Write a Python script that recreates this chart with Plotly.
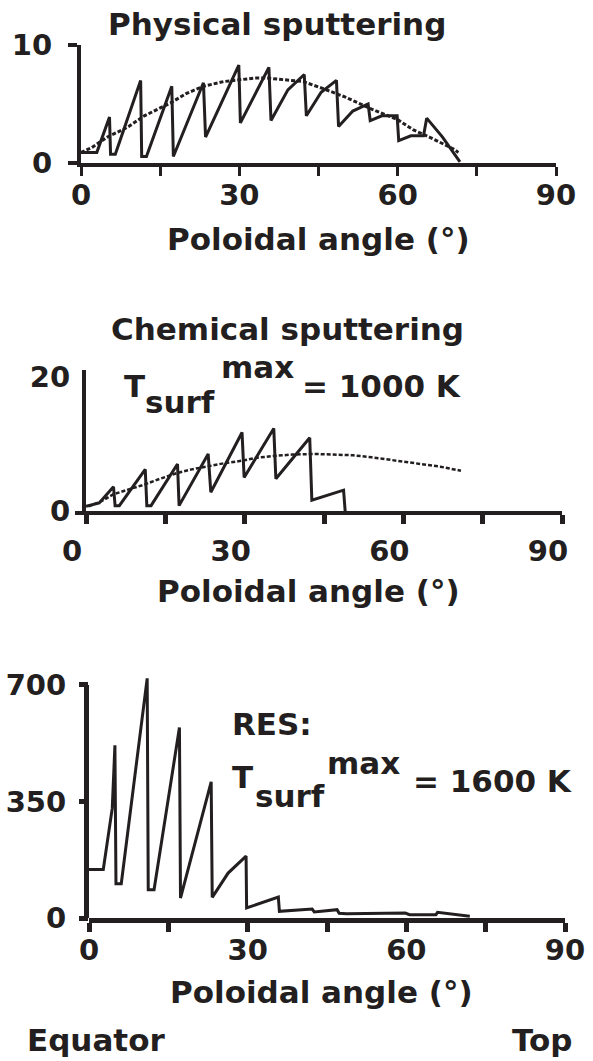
import plotly.graph_objects as go

INK = "#231f20"
W, H = 593, 1061
FONT = "DejaVu Sans"
FS = 31
TFS = 29

# ---------------- data ----------------
# Physical sputtering (solid sawtooth + dotted smooth curve)
phys_x = [0.0, 3.0, 5.4, 5.6, 6.5, 11.3, 11.5, 12.4, 17.2, 17.5, 23.2, 23.6, 29.9, 30.2,
          35.6, 36.0, 39.2, 42.3, 42.7, 45.5, 48.4, 48.8, 51.5, 54.4, 54.8, 57.0, 59.9,
          60.2, 62.5, 64.9, 65.5, 68.5, 71.8]
phys_y = [0.9, 0.9, 3.9, 0.75, 0.75, 7.0, 0.55, 0.55, 6.5, 0.55, 6.8, 2.2, 8.3, 3.4,
          8.1, 3.6, 6.2, 7.5, 4.0, 6.0, 7.0, 3.1, 4.4, 5.0, 3.6, 4.0, 4.0,
          1.9, 2.3, 2.3, 3.8, 2.2, 0.1]
phys_fit_x = [0, 2, 5, 8.7, 12, 17, 20, 23.2, 27, 30.1, 33, 35.2, 38, 42.1, 45.9, 50,
              55.4, 59.9, 63, 66, 70.5, 71.5]
phys_fit_y = [0.9, 1.3, 2.2, 3.0, 4.0, 5.1, 5.9, 6.5, 6.9, 7.06, 7.2, 7.2, 7.1, 6.9, 6.3,
              5.6, 4.5, 3.7, 2.8, 2.2, 1.2, 0.9]

# Chemical sputtering, Tsurf max = 1000 K
chem_x = [0.0, 2.5, 5.2, 5.5, 6.3, 11.2, 11.5, 12.3, 17.3, 17.6, 23.1, 23.6, 29.5, 29.9,
          35.5, 35.9, 42.3, 42.7, 48.7, 49.0]
chem_y = [0.7, 1.2, 3.6, 0.8, 0.8, 6.2, 0.8, 0.8, 7.0, 0.8, 8.5, 2.8, 11.7, 5.0,
          12.3, 4.8, 10.9, 1.6, 3.1, 0.0]
chem_fit_x = [0.5, 3, 5.2, 8, 10.9, 14, 17.4, 20, 23.1, 26, 29.6, 32, 35.4, 39, 43.3, 47,
              50.5, 54, 56.9, 60, 62.7, 67, 70.9]
chem_fit_y = [0.7, 1.5, 2.5, 3.2, 3.9, 4.8, 5.7, 6.2, 6.7, 7.1, 7.5, 7.9, 8.2, 8.4, 8.5,
              8.45, 8.3, 8.0, 7.7, 7.4, 7.1, 6.6, 6.0]

# RES, Tsurf max = 1600 K
res_x = [0.0, 2.7, 4.4, 4.9, 5.1, 6.1, 11.0, 11.2, 12.3, 17.1, 17.3, 23.1, 23.3, 26.3,
         29.7, 29.8, 35.8, 36.0, 42.2, 42.6, 46.9, 47.3, 48.7, 59.8, 60.6, 65.6, 65.9, 72.0]
res_y = [146, 146, 330, 519, 103, 103, 720, 85, 85, 572, 60, 409, 62, 135,
         186, 30, 63, 20, 27, 18, 25, 14, 13, 15, 10, 10, 17, 5]

x_ticks = [0, 15, 30, 45, 60, 75, 90]
x_ticktext = ["0", "", "30", "", "60", "", "90"]


def px(x):
    return x / W


def py(y):
    return 1 - y / H


fig = go.Figure()
fig.add_trace(go.Scatter(x=phys_fit_x, y=phys_fit_y, mode="lines",
                         line=dict(color=INK, width=3, dash="4px,2px"), xaxis="x", yaxis="y"))
fig.add_trace(go.Scatter(x=phys_x, y=phys_y, mode="lines",
                         line=dict(color=INK, width=3), xaxis="x", yaxis="y"))
fig.add_trace(go.Scatter(x=chem_fit_x, y=chem_fit_y, mode="lines",
                         line=dict(color=INK, width=2.5, dash="4px,2px"), xaxis="x2", yaxis="y2"))
fig.add_trace(go.Scatter(x=chem_x, y=chem_y, mode="lines",
                         line=dict(color=INK, width=3), xaxis="x2", yaxis="y2"))
fig.add_trace(go.Scatter(x=res_x, y=res_y, mode="lines",
                         line=dict(color=INK, width=3), xaxis="x3", yaxis="y3"))

tickfont = dict(family=FONT, size=TFS, color=INK, weight="bold")


def xax(dom, anchor, lw, tw, shift=0, standoff=6):
    d = dict(domain=dom, anchor=anchor, range=[0, 90], tickvals=x_ticks, ticktext=x_ticktext,
             ticks="outside", ticklen=9, tickwidth=tw, tickcolor=INK,
             showline=True, linecolor=INK, linewidth=lw, showgrid=False, zeroline=False,
             tickfont=tickfont, fixedrange=True, ticklabelstandoff=standoff,
             automargin=False)
    if shift:
        d["ticklabelshift"] = shift
    return d


def yax(dom, anchor, rng, vals, lw, showline=True, standoff=10, ticks="outside"):
    return dict(domain=dom, anchor=anchor, range=rng, tickvals=vals,
                ticks=ticks, ticklen=9, tickwidth=lw, tickcolor=INK,
                showline=showline, linecolor=INK, linewidth=lw, showgrid=False,
                zeroline=False, tickfont=tickfont, fixedrange=True,
                ticklabelstandoff=standoff, automargin=False)


# pixel geometry of the three panels
top_dom_x = [px(81), px(556)]
top_dom_y = [py(163), py(45)]
mid_dom_x = [px(86), px(562)]
mid_dom_y = [py(511), py(370)]
bot_dom_x = [px(89), px(565)]
bot_dom_y = [py(918), py(675)]

fig.update_layout(
    width=W, height=H,
    margin=dict(l=0, r=0, t=0, b=0, pad=0, autoexpand=False),
    paper_bgcolor="white", plot_bgcolor="white",
    showlegend=False,
    xaxis=xax(top_dom_x, "y", 4, 3, standoff=-6),
    yaxis=yax(top_dom_y, "x", [0, 10], [0, 10], 4, standoff=10),
    xaxis2=xax(mid_dom_x, "y2", 4, 5, shift=-14, standoff=2),
    yaxis2=yax(mid_dom_y, "x2", [0, 21], [0, 20], 4, standoff=6, ticks=""),
    xaxis3=xax(bot_dom_x, "y3", 5, 5, standoff=-7),
    yaxis3=yax(bot_dom_y, "x3", [0, 730], [0, 350, 700], 5, showline=False, standoff=7),
)

# y axis line of the bottom panel stops at 700
fig.add_shape(type="line", xref="paper", yref="y3",
              x0=bot_dom_x[0] - 2.5 / W, x1=bot_dom_x[0] - 2.5 / W, y0=0, y1=700,
              line=dict(color=INK, width=5))
# middle panel: the x axis line runs a little past the y axis (no tick at 20)
fig.add_shape(type="line", xref="paper", yref="paper",
              x0=mid_dom_x[0] - 11 / W, x1=mid_dom_x[0], y0=mid_dom_y[0] - 2 / H,
              y1=mid_dom_y[0] - 2 / H, line=dict(color=INK, width=4))


def txt(s, x, y, xanchor="center", size=FS):
    fig.add_annotation(text=s, x=px(x), y=py(y), xref="paper", yref="paper",
                       xanchor=xanchor, yanchor="middle", showarrow=False,
                       font=dict(family=FONT, size=size, color=INK, weight="bold"))


txt("Physical sputtering", 277, 24)
txt("Poloidal angle (°)", 318, 239)

txt("Chemical sputtering", 287, 329)
txt("T", 122, 386, "left")
txt("surf", 143, 402, "left")
txt("max", 219, 367, "left")
txt("= 1000 K", 300, 386, "left")
txt("Poloidal angle (°)", 308, 591)

txt("RES:", 230, 724, "left")
txt("T", 230, 777, "left")
txt("surf", 253, 796, "left")
txt("max", 325, 763, "left")
txt("= 1600 K", 411, 781, "left")
txt("Poloidal angle (°)", 321, 992)
txt("Equator", 25, 1040, "left")
txt("Top", 510, 1040, "left")

fig.write_html("out.html")
